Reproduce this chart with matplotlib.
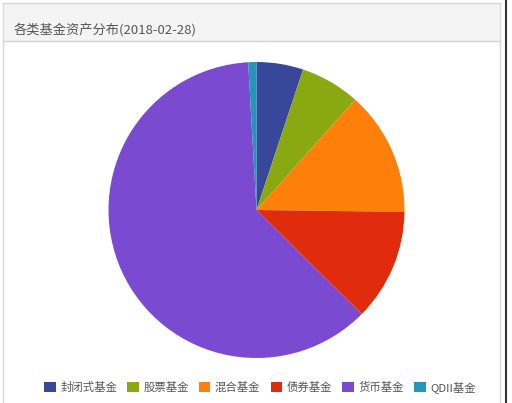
import matplotlib.pyplot as plt
from matplotlib.patches import Rectangle
from matplotlib.lines import Line2D

plt.rcParams['font.family'] = ['Noto Sans CJK SC', 'DejaVu Sans']

title = '各类基金资产分布(2018-02-28)'
labels = ['封闭式基金', '股票基金', '混合基金', '债券基金', '货币基金', 'QDII基金']
shares = [5.1, 6.5, 13.6, 12.2, 61.7, 0.9]
colors = ['#38479a', '#8aa80f', '#ff7f0b', '#e02c0c', '#7a4ad0', '#2596b8']

W, H = 512, 403
fig = plt.figure(figsize=(W / 100, H / 100), dpi=100)
fig.patch.set_facecolor('white')

# panel frame + title bar (pixel coords, top-left origin)
def px(x, y):
    return x / W, 1 - y / H

bg = fig.add_axes([0, 0, 1, 1])
bg.set_xlim(0, W)
bg.set_ylim(H, 0)
bg.axis('off')
bg.add_patch(Rectangle((3, 3), 497, 38, facecolor='#f4f4f4', edgecolor='none'))
bg.add_patch(Rectangle((3, 3), 497, 410, facecolor='none', edgecolor='#d8d8d8', lw=1))
bg.add_line(Line2D([3, 500], [41, 41], color='#d4d4d4', lw=1))
bg.add_line(Line2D([505.5, 505.5], [0, H], color='#333333', lw=1.5))
bg.text(14, 31, title, fontsize=9.5, color='#555555', va='center')

# pie
cx, cy, r = 256.5, 210, 148
ax = fig.add_axes([(cx - r) / W, 1 - (cy + r) / H, 2 * r / W, 2 * r / H])
wedges, _ = ax.pie(shares, colors=colors, startangle=90, counterclock=False,
                   radius=1, wedgeprops=dict(linewidth=0))
ax.set_xlim(-1, 1)
ax.set_ylim(-1, 1)
ax.set_aspect('auto')
ax.axis('off')

fig.legend(wedges, labels, loc='center', bbox_to_anchor=(px(260, 387)),
           ncol=6, frameon=False, fontsize=8.2, labelcolor='#555555',
           handlelength=1.0, handleheight=1.0, handletextpad=0.4,
           columnspacing=0.9, borderpad=0)

fig.savefig('out.png', dpi=100)
